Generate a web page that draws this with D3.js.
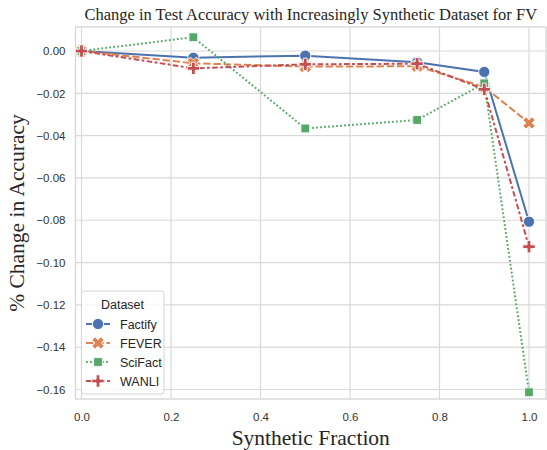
<!DOCTYPE html>
<html><head><meta charset="utf-8">
<script src="https://cdn.jsdelivr.net/npm/d3@7"></script>
<style>body{margin:0;background:#fff}svg{display:block}</style>
</head><body>
<svg id="c" width="547" height="450"></svg>
<script>
const fractions = [0.0, 0.25, 0.5, 0.75, 0.9, 1.0];
const seriesNames = ["Factify", "FEVER", "SciFact", "WANLI"];
const factify = [0.0, -0.0032, -0.0022, -0.0053, -0.0099, -0.0807];
const fever   = [0.0, -0.0058, -0.0074, -0.0072, -0.0170, -0.0340];
const scifact = [0.0, 0.0065, -0.0366, -0.0326, -0.0153, -0.1613];
const wanli   = [0.0, -0.0082, -0.0063, -0.0060, -0.0181, -0.0925];
const xTicks = [0.0, 0.2, 0.4, 0.6, 0.8, 1.0];
const yTicks = [0.00, -0.02, -0.04, -0.06, -0.08, -0.10, -0.12, -0.14, -0.16];
const colors = ["#4c72b0", "#dd8452", "#55a868", "#c44e52"];
const dashes = [null, "7.4,2.8", "1.8,2.2", "5.6,2.4,2.8,2.4"];
const markers = ["circle", "x", "square", "plus"];
const values = [factify, fever, scifact, wanli];

const svg = d3.select("#c");
const frame = {left: 75.5, right: 546, top: 27, bottom: 399};
const x = d3.scaleLinear().domain([0, 1]).range([81.5, 529]);
const y = d3.scaleLinear().domain([0, -0.16]).range([51, 389.5]);

// grid
const g = svg.append("g");
g.selectAll("line.vx").data(xTicks).enter().append("line")
  .attr("x1", d => x(d)).attr("x2", d => x(d)).attr("y1", frame.top).attr("y2", frame.bottom)
  .attr("stroke", "#d9d9d9").attr("stroke-width", 1.2);
g.selectAll("line.hy").data(yTicks).enter().append("line")
  .attr("y1", d => y(d)).attr("y2", d => y(d)).attr("x1", frame.left).attr("x2", frame.right)
  .attr("stroke", "#d9d9d9").attr("stroke-width", 1.2);
g.append("rect").attr("x", frame.left).attr("y", frame.top)
  .attr("width", frame.right - frame.left).attr("height", frame.bottom - frame.top)
  .attr("fill", "none").attr("stroke", "#d4d4d4").attr("stroke-width", 1.3);

// axes tick labels via d3 axes
const fmtX = d3.format(".1f");
const fmtY = d => d3.format(".2f")(d).replace("-", "\u2212");
const xAxis = d3.axisBottom(x).tickValues(xTicks).tickFormat(fmtX).tickSize(0).tickPadding(14);
const yAxis = d3.axisLeft(y).tickValues(yTicks).tickFormat(fmtY).tickSize(0).tickPadding(10);
const xa = svg.append("g").attr("transform", `translate(0,${frame.bottom})`).call(xAxis);
const ya = svg.append("g").attr("transform", `translate(${frame.left},0)`).call(yAxis);
[xa, ya].forEach(a => {
  a.select(".domain").remove();
  a.selectAll("text").attr("font-family", "Liberation Sans, Arial, sans-serif")
    .attr("font-size", 11.5).attr("fill", "#333");
});

function markerPath(type, s) {
  if (type === "circle") return d3.symbol(d3.symbolCircle, Math.PI * s * s)();
  if (type === "square") return `M${-s},${-s}H${s}V${s}H${-s}Z`;
  if (type === "x" || type === "plus") {
    const a = s, w = s * (type === "x" ? 0.36 : 0.3);
    const pts = [[-w,-a],[w,-a],[w,-w],[a,-w],[a,w],[w,w],[w,a],[-w,a],[-w,w],[-a,w],[-a,-w],[-w,-w]];
    const ang = type === "x" ? Math.PI / 4 : 0;
    const c = Math.cos(ang), sn = Math.sin(ang);
    return "M" + pts.map(p => [p[0]*c - p[1]*sn, p[0]*sn + p[1]*c].map(v => v.toFixed(2)).join(",")).join("L") + "Z";
  }
}
const mSize = {circle: 5.6, x: 6.4, square: 4.4, plus: 6.2};

// series
const line = d3.line().x(d => x(d[0])).y(d => y(d[1]));
values.forEach((vals, i) => {
  const pts = fractions.map((f, j) => [f, vals[j]]);
  const sg = svg.append("g");
  sg.append("path").datum(pts).attr("d", line).attr("fill", "none")
    .attr("stroke", colors[i]).attr("stroke-width", 2)
    .attr("stroke-dasharray", dashes[i]);
  sg.selectAll("path.m").data(pts).enter().append("path")
    .attr("transform", d => `translate(${x(d[0])},${y(d[1])})`)
    .attr("d", markerPath(markers[i], mSize[markers[i]]))
    .attr("fill", colors[i]).attr("stroke", "#fff").attr("stroke-width", 0.9);
});

// legend
const lg = svg.append("g");
lg.append("rect").attr("x", 81.5).attr("y", 291).attr("width", 82.5).attr("height", 103)
  .attr("rx", 3).attr("fill", "#fff").attr("fill-opacity", 0.8)
  .attr("stroke", "#d4d4d4").attr("stroke-width", 1);
lg.append("text").attr("x", 122.5).attr("y", 309).attr("text-anchor", "middle")
  .attr("font-family", "Liberation Sans, Arial, sans-serif").attr("font-size", 12.5)
  .attr("fill", "#262626").text("Dataset");
seriesNames.forEach((n, i) => {
  const yy = 324 + i * 19;
  lg.append("line").attr("x1", 86).attr("x2", 110).attr("y1", yy).attr("y2", yy)
    .attr("stroke", colors[i]).attr("stroke-width", 2).attr("stroke-dasharray", dashes[i]);
  lg.append("path").attr("transform", `translate(98,${yy})`)
    .attr("d", markerPath(markers[i], mSize[markers[i]]))
    .attr("fill", colors[i]).attr("stroke", "#fff").attr("stroke-width", 0.9);
  lg.append("text").attr("x", 120).attr("y", yy + 4.5)
    .attr("font-family", "Liberation Sans, Arial, sans-serif").attr("font-size", 12.5)
    .attr("fill", "#262626").text(n);
});

// title and labels
svg.append("text").attr("x", (frame.left + frame.right) / 2).attr("y", 20).attr("text-anchor", "middle")
  .attr("font-family", "Liberation Serif, Times New Roman, serif").attr("font-size", 16.5)
  .attr("fill", "#262626").text("Change in Test Accuracy with Increasingly Synthetic Dataset for FV");
svg.append("text").attr("x", (frame.left + frame.right) / 2).attr("y", 445).attr("text-anchor", "middle")
  .attr("font-family", "Liberation Serif, Times New Roman, serif").attr("font-size", 21.5)
  .attr("fill", "#262626").text("Synthetic Fraction");
svg.append("text").attr("transform", `translate(24,${(frame.top + frame.bottom) / 2}) rotate(-90)`)
  .attr("text-anchor", "middle")
  .attr("font-family", "Liberation Serif, Times New Roman, serif").attr("font-size", 21.5)
  .attr("fill", "#262626").text("% Change in Accuracy");
</script>
</body></html>
